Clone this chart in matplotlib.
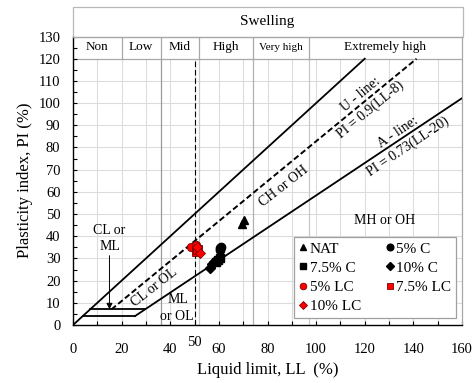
import matplotlib
matplotlib.use("Agg")
import matplotlib.pyplot as plt
from matplotlib.patches import Rectangle
from matplotlib.ticker import MultipleLocator
import numpy as np

plt.rcParams['font.family'] = ['Liberation Serif', 'DejaVu Serif']
plt.rcParams['mathtext.fontset'] = 'stix'

# ---- data ----
nat_ll = [69.5, 70.3]
nat_pi = [45.5, 47.3]
c5_ll = [60.3, 61.0, 60.6]
c5_pi = [33.8, 35.2, 34.6]
c75_ll = [59.0, 60.3, 59.6]
c75_pi = [28.5, 30.4, 29.4]
c10_ll = [56.3, 57.3, 58.2]
c10_pi = [25.8, 27.3, 28.4]
lc5_ll = [48.7, 50.6]
lc5_pi = [35.0, 36.0]
lc75_ll = [51.6, 50.6, 51.2]
lc75_pi = [34.4, 33.0, 33.8]
lc10_ll = [52.1, 51.0]
lc10_pi = [32.3, 35.3]

xticks = [0, 20, 40, 60, 80, 100, 120, 140, 160]
yticks = list(range(0, 131, 10))

swell_bounds = [0, 20, 36, 52, 74, 97, 160]
swell_labels = ['Non', 'Low', 'Mid', 'High', 'Very high', 'Extremely high']
swell_sizes = [9.5, 9.5, 9.5, 9.5, 8, 9.5]

# chart lines (from equations)
u_ll = np.array([15.8, 141.3])
u_pi = 0.9 * (u_ll - 8)
a_ll = np.array([25.5, 160])
a_pi = 0.73 * (a_ll - 20)
up_ll = np.array([0, 120])
up_pi = up_ll * 1.0

fig = plt.figure(figsize=(4.74, 3.83), dpi=100)
ax = fig.add_axes([73/474, 1-325/383, 389/474, (325-36.5)/383])
ax.set_xlim(0, 160)
ax.set_ylim(0, 130)

# grid
for x in range(10, 160, 10):
    ax.plot([x, x], [0, 120], color='#dcdcdc', lw=0.8, zorder=0)
for y in range(10, 120, 10):
    ax.plot([0, 160], [y, y], color='#dcdcdc', lw=0.8, zorder=0)
# swelling boundaries in plot
for x, c in [(36, '#9a9a9a'), (52, '#c8c8c8'), (74, '#b0b0b0'), (97, '#c8c8c8')]:
    ax.plot([x, x], [0, 120], color=c, lw=0.9, zorder=0.5)

# category row
ax.plot([0, 160], [120, 120], color='#a8a8a8', lw=0.9, zorder=1)
for x in swell_bounds[1:-1]:
    ax.plot([x, x], [120, 130], color='#a8a8a8', lw=0.9, zorder=1)
for i, lab in enumerate(swell_labels):
    xc = (swell_bounds[i] + swell_bounds[i+1]) / 2
    ax.text(xc, 125.2, lab, ha='center', va='center', fontsize=swell_sizes[i])

# swelling box above
ax.add_patch(Rectangle((0, 130), 160.3, 13.4, facecolor='white', edgecolor='#b8b8b8',
                       lw=0.9, clip_on=False, zorder=2))
ax.text(80, 136.8, 'Swelling', ha='center', va='center', fontsize=11, clip_on=False)

# lines
ax.plot([50, 50], [0, 120], color='black', lw=0.8, ls=(0, (5, 2.5)), zorder=2)
ax.plot(up_ll, up_pi, color='black', lw=1.3, zorder=3)
ax.plot(a_ll, a_pi, color='black', lw=1.3, zorder=3)
ax.plot(u_ll, u_pi, color='black', lw=1.4, ls=(0, (3, 1.5)), zorder=3)
ax.plot([4, 25.5], [4, 4], color='black', lw=1.3, zorder=3)
ax.plot([7, 29.6], [7, 7], color='black', lw=1.3, zorder=3)

# annotations
ax.annotate('', xy=(15, 5.8), xytext=(15, 32.5),
            arrowprops=dict(arrowstyle='-|>', color='black', lw=0.7,
                            mutation_scale=9), zorder=4)
ax.text(15, 42.8, 'CL or', ha='center', va='center', fontsize=10)
ax.text(15, 35.2, 'ML', ha='center', va='center', fontsize=10)
ax.text(43.3, 11.3, 'ML', ha='center', va='center', fontsize=10)
ax.text(42.8, 4.0, 'or OL', ha='center', va='center', fontsize=10)
ax.text(33.5, 17.0, 'CL or OL', ha='center', va='center', fontsize=10, rotation=38)
ax.text(86.5, 62.5, 'CH or OH', ha='center', va='center', fontsize=10, rotation=38)
ax.text(128, 47.2, 'MH or OH', ha='center', va='center', fontsize=10)
ax.text(118.3, 103.8, 'U - line:', ha='center', va='center', fontsize=10, rotation=39.5)
ax.text(122.2, 96.8, 'PI = 0.9(LL-8)', ha='center', va='center', fontsize=10, rotation=39.5)
ax.text(133.8, 87.0, 'A - line:', ha='center', va='center', fontsize=10, rotation=34)
ax.text(137.6, 80.3, 'PI = 0.73(LL-20)', ha='center', va='center', fontsize=10, rotation=34)

# data points
ms = 6
h_nat, = ax.plot(nat_ll, nat_pi, '^', color='black', ms=ms, ls='none', zorder=5, label='NAT')
h_c5, = ax.plot(c5_ll, c5_pi, 'o', color='black', ms=ms, ls='none', zorder=5, label='5% C')
h_c75, = ax.plot(c75_ll, c75_pi, 's', color='black', ms=ms-0.5, ls='none', zorder=5, label='7.5% C')
h_c10, = ax.plot(c10_ll, c10_pi, 'D', color='black', ms=ms-1, ls='none', zorder=5, label='10% C')
h_lc5, = ax.plot(lc5_ll, lc5_pi, 'o', mfc='#ff0000', mec='#7a0000', mew=0.6, ms=ms,
                 ls='none', zorder=5, label='5% LC')
h_lc75, = ax.plot(lc75_ll, lc75_pi, 's', mfc='#ff0000', mec='#7a0000', mew=0.6, ms=ms-0.5,
                  ls='none', zorder=5, label='7.5% LC')
h_lc10, = ax.plot(lc10_ll, lc10_pi, 'D', mfc='#ff0000', mec='#7a0000', mew=0.6, ms=ms-1,
                  ls='none', zorder=5, label='10% LC')

handles = [h_nat, h_c75, h_lc5, h_lc10, h_c5, h_c10, h_lc75]
leg = ax.legend(handles=handles, labels=[h.get_label() for h in handles], ncol=2,
                loc='lower right', bbox_to_anchor=(0.985, 0.024), fontsize=11,
                frameon=True, fancybox=False, edgecolor='#a0a0a0', framealpha=1,
                handlelength=0.55, handletextpad=0.15, columnspacing=1.6,
                labelspacing=0.36, borderpad=0.32, borderaxespad=0, markerscale=0.8)
leg.get_frame().set_linewidth(0.9)
leg.set_zorder(6)

# spines & ticks
for s in ['top', 'right']:
    ax.spines[s].set_color('#a8a8a8')
    ax.spines[s].set_linewidth(0.9)
for s in ['left', 'bottom']:
    ax.spines[s].set_color('black')
    ax.spines[s].set_linewidth(1.0)
ax.set_xticks(xticks)
ax.xaxis.set_minor_locator(MultipleLocator(10))
ax.set_yticks(yticks)
ax.yaxis.set_minor_locator(MultipleLocator(5))
ax.tick_params(axis='both', which='both', direction='in', length=3, width=0.8,
               labelsize=10.5, top=False, right=False)
ax.tick_params(axis='x', which='major', pad=13)
ax.tick_params(axis='y', which='major', pad=9)
ax.text(50, -5.0, '50', ha='center', va='top', fontsize=10.5)

ax.set_xlabel('Liquid limit, LL  (%)', fontsize=12, labelpad=4)
ax.set_ylabel('Plasticity index, PI (%)', fontsize=12, labelpad=4)

fig.savefig('out.png', dpi=100)
